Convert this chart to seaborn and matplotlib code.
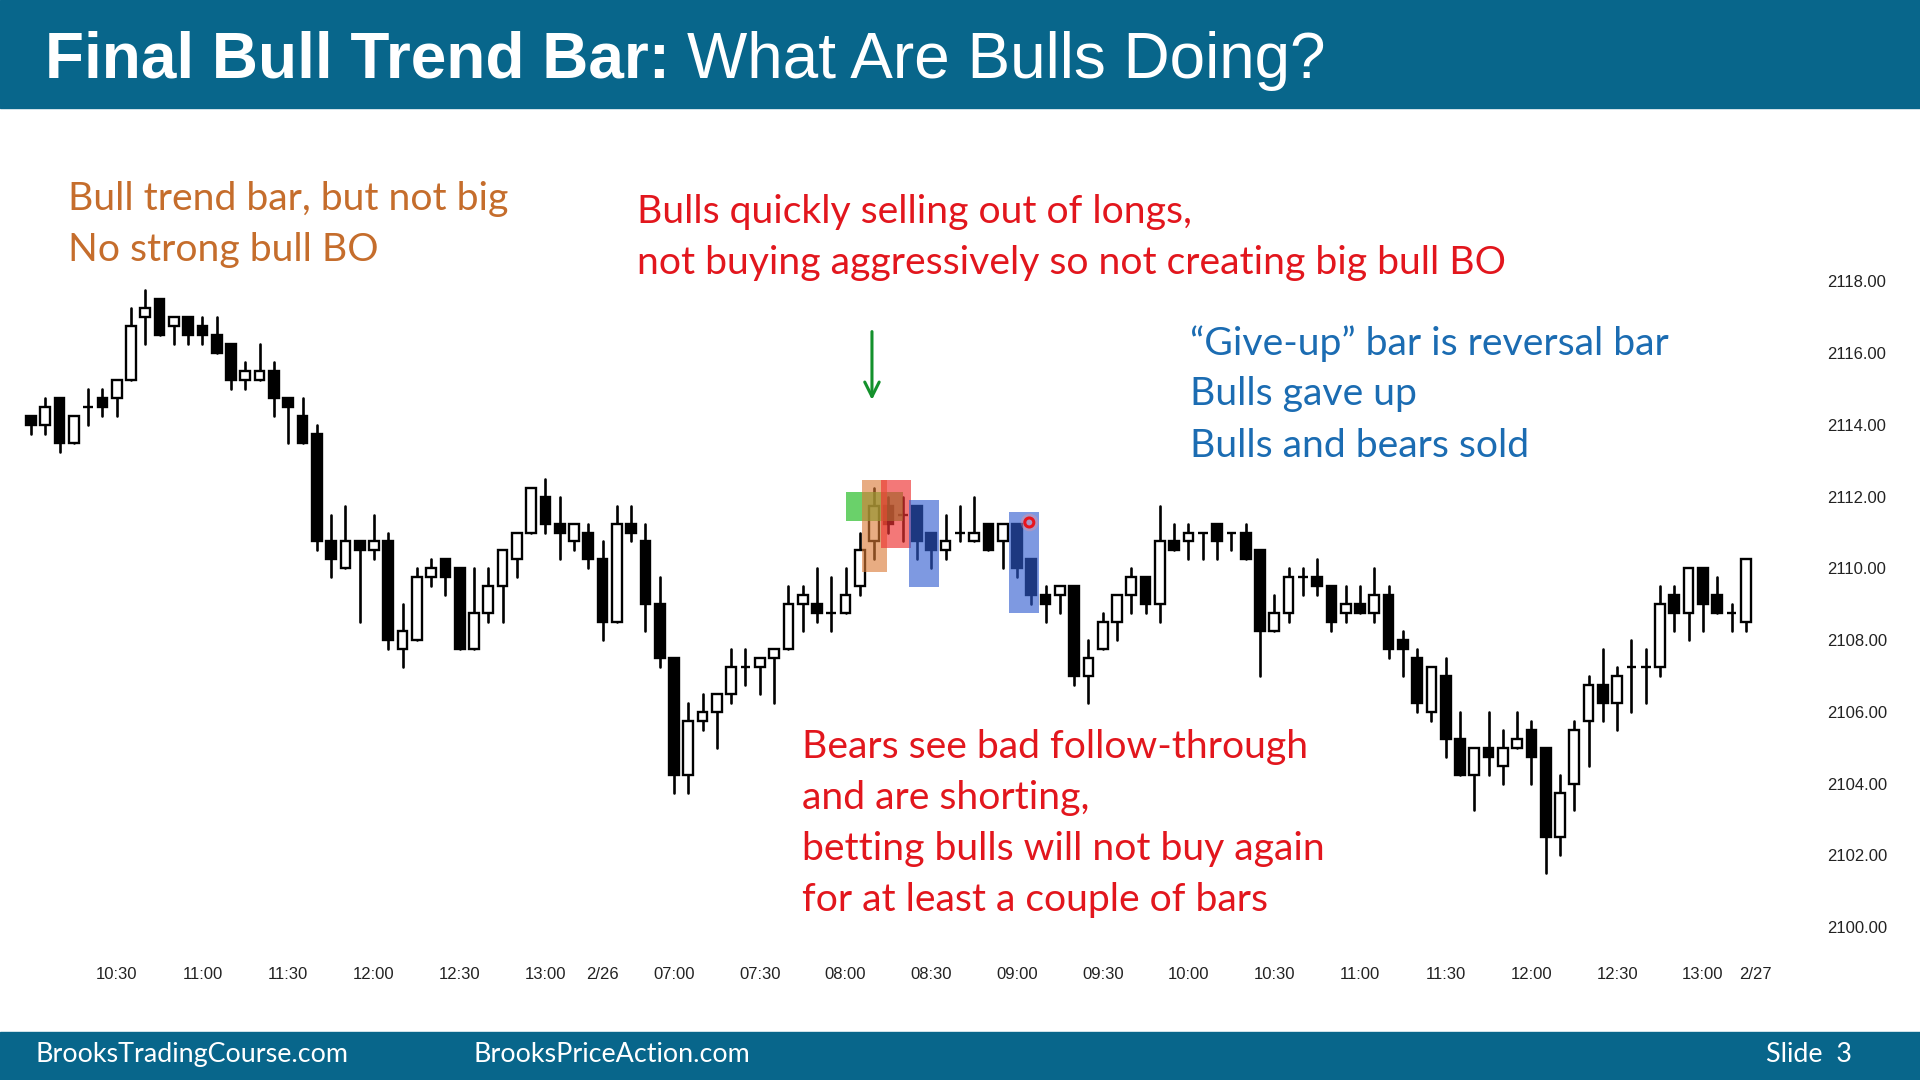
import numpy as np
import pandas as pd
import seaborn as sns
import matplotlib.pyplot as plt
from matplotlib.patches import Rectangle
from matplotlib import font_manager

# 5-min bars, 2/25 10:00 .. 13:15 then 2/26 06:35 .. 13:15
opens = [2114.25, 2114.0, 2114.75, 2113.5, 2114.5, 2114.75, 2114.75, 2115.25, 2117.0, 2117.5,
         2116.75, 2117.0, 2116.75, 2116.5, 2116.25, 2115.25, 2115.25, 2115.5, 2114.75, 2114.25,
         2113.75, 2110.75, 2110.0, 2110.75, 2110.5, 2110.75, 2107.75, 2108.0, 2109.75, 2110.25,
         2110.0, 2107.75, 2108.75, 2109.5, 2110.25, 2111.0, 2112.0, 2111.25, 2110.75, 2111.0,
         2110.25, 2108.5, 2111.25, 2110.75, 2109.0, 2107.5, 2104.25, 2105.75, 2106.0, 2106.5,
         2107.25, 2107.25, 2107.5, 2107.75, 2109.0, 2109.0, 2108.75, 2108.75, 2109.5, 2110.75,
         2111.75, 2111.5, 2111.75, 2111.0, 2110.5, 2111.0, 2110.75, 2111.25, 2110.75, 2111.25,
         2110.25, 2109.25, 2109.25, 2109.5, 2107.0, 2107.75, 2108.5, 2109.25, 2109.75, 2109.0,
         2110.75, 2110.75, 2111.0, 2111.25, 2111.0, 2111.0, 2110.5, 2108.25, 2108.75, 2109.75,
         2109.75, 2109.5, 2108.75, 2109.0, 2108.75, 2109.25, 2108.0, 2107.5, 2106.0, 2107.0,
         2105.25, 2104.25, 2105.0, 2104.5, 2105.0, 2105.5, 2105.0, 2102.5, 2104.0, 2105.75,
         2106.75, 2106.25, 2107.25, 2107.25, 2107.25, 2109.25, 2108.75, 2110.0, 2109.25, 2108.75,
         2108.5]
highs = [2114.25, 2114.75, 2114.75, 2114.25, 2115.0, 2115.0, 2115.25, 2117.25, 2117.75, 2117.5,
         2117.0, 2117.0, 2117.0, 2117.0, 2116.25, 2115.75, 2116.25, 2115.75, 2114.75, 2114.75,
         2114.0, 2111.5, 2111.75, 2110.75, 2111.5, 2111.0, 2109.0, 2110.0, 2110.25, 2110.25,
         2110.0, 2110.0, 2110.0, 2110.5, 2111.0, 2112.25, 2112.5, 2112.0, 2111.25, 2111.25,
         2110.75, 2111.75, 2111.75, 2111.25, 2109.75, 2107.5, 2106.25, 2106.5, 2106.5, 2107.75,
         2107.75, 2107.5, 2107.75, 2109.5, 2109.5, 2110.0, 2109.75, 2110.0, 2111.0, 2112.25,
         2112.0, 2112.0, 2111.75, 2111.0, 2111.5, 2111.75, 2112.0, 2111.25, 2111.25, 2111.25,
         2110.25, 2109.5, 2109.5, 2109.5, 2108.0, 2108.75, 2109.25, 2110.0, 2109.75, 2111.75,
         2111.25, 2111.25, 2111.0, 2111.25, 2111.0, 2111.25, 2110.5, 2109.25, 2110.0, 2110.0,
         2110.25, 2109.5, 2109.5, 2109.5, 2110.0, 2109.5, 2108.25, 2107.75, 2107.25, 2107.5,
         2106.0, 2105.0, 2106.0, 2105.5, 2106.0, 2105.75, 2105.0, 2104.25, 2105.75, 2107.0,
         2107.75, 2107.25, 2108.0, 2107.75, 2109.5, 2109.5, 2110.0, 2110.0, 2109.75, 2109.0,
         2110.25]
lows = [2113.75, 2113.75, 2113.25, 2113.5, 2114.0, 2114.25, 2114.25, 2115.25, 2116.25, 2116.5,
        2116.25, 2116.25, 2116.25, 2116.0, 2115.0, 2115.0, 2115.25, 2114.25, 2113.5, 2113.5,
        2110.5, 2109.75, 2110.0, 2108.5, 2110.25, 2107.75, 2107.25, 2108.0, 2109.5, 2109.25,
        2107.75, 2107.75, 2108.5, 2108.5, 2109.75, 2111.0, 2111.0, 2110.25, 2110.5, 2110.0,
        2108.0, 2108.5, 2110.75, 2108.25, 2107.25, 2103.75, 2103.75, 2105.5, 2105.0, 2106.25,
        2106.75, 2106.5, 2106.25, 2107.75, 2108.25, 2108.5, 2108.25, 2108.75, 2109.25, 2110.25,
        2111.0, 2110.75, 2110.25, 2110.0, 2110.25, 2110.75, 2110.75, 2110.5, 2110.0, 2109.75,
        2109.0, 2108.5, 2108.75, 2106.75, 2106.25, 2107.75, 2108.0, 2108.75, 2108.75, 2108.5,
        2110.5, 2110.25, 2110.25, 2110.25, 2110.5, 2110.25, 2107.0, 2108.25, 2108.5, 2109.25,
        2109.25, 2108.25, 2108.5, 2108.75, 2108.5, 2107.5, 2107.0, 2106.0, 2105.75, 2104.75,
        2104.25, 2103.25, 2104.25, 2104.0, 2105.0, 2104.0, 2101.5, 2102.0, 2103.25, 2104.5,
        2105.75, 2105.5, 2106.0, 2106.25, 2107.0, 2108.25, 2108.0, 2108.25, 2108.75, 2108.25,
        2108.25]
closes = [2114.0, 2114.5, 2113.5, 2114.25, 2114.5, 2114.5, 2115.25, 2116.75, 2117.25, 2116.5,
          2117.0, 2116.5, 2116.5, 2116.0, 2115.25, 2115.5, 2115.5, 2114.75, 2114.5, 2113.5,
          2110.75, 2110.25, 2110.75, 2110.5, 2110.75, 2108.0, 2108.25, 2109.75, 2110.0, 2109.75,
          2107.75, 2108.75, 2109.5, 2110.5, 2111.0, 2112.25, 2111.25, 2111.0, 2111.25, 2110.25,
          2108.5, 2111.25, 2111.0, 2109.0, 2107.5, 2104.25, 2105.75, 2106.0, 2106.5, 2107.25,
          2107.25, 2107.5, 2107.75, 2109.0, 2109.25, 2108.75, 2108.75, 2109.25, 2110.5, 2111.75,
          2111.25, 2111.5, 2110.75, 2110.5, 2110.75, 2111.0, 2111.0, 2110.5, 2111.25, 2110.0,
          2109.25, 2109.0, 2109.5, 2107.0, 2107.5, 2108.5, 2109.25, 2109.75, 2109.0, 2110.75,
          2110.5, 2111.0, 2111.0, 2110.75, 2111.0, 2110.25, 2108.25, 2108.75, 2109.75, 2109.75,
          2109.5, 2108.5, 2109.0, 2108.75, 2109.25, 2107.75, 2107.75, 2106.25, 2107.25, 2105.25,
          2104.25, 2105.0, 2104.75, 2105.0, 2105.25, 2104.75, 2102.5, 2103.75, 2105.5, 2106.75,
          2106.25, 2107.0, 2107.25, 2107.25, 2109.0, 2108.75, 2110.0, 2109.0, 2108.75, 2108.75,
          2110.25]

tick_bars = [6, 12, 18, 24, 30, 36, 40, 45, 51, 57, 63, 69, 75, 81, 87, 93, 99, 105, 111, 117, 120.7]
tick_labels = ['10:30', '11:00', '11:30', '12:00', '12:30', '13:00', '2/26', '07:00', '07:30',
               '08:00', '08:30', '09:00', '09:30', '10:00', '10:30', '11:00', '11:30', '12:00',
               '12:30', '13:00', '2/27']
price_ticks = [2100, 2102, 2104, 2106, 2108, 2110, 2112, 2114, 2116, 2118]

# highlight boxes: (bar from, bar to, price low, price high, colour, alpha)
boxes = [(57.0, 61.0, 2111.33, 2112.12, '#30c030', 0.72),
         (58.13, 59.87, 2109.91, 2112.47, '#da7a35', 0.62),
         (59.45, 61.55, 2110.58, 2112.47, '#ee3333', 0.66),
         (61.43, 63.57, 2109.49, 2111.91, '#2f5bd0', 0.62),
         (68.44, 70.56, 2108.77, 2111.57, '#2f5bd0', 0.62)]

W, H = 1920, 1080
BAND = '#08668b'

sns.set_theme(style='white')
names = {f.name for f in font_manager.fontManager.ttflist}
narrow = 'Liberation Sans Narrow' if 'Liberation Sans Narrow' in names else 'Liberation Sans'
plt.rcParams['font.family'] = ['Lato', 'DejaVu Sans']

fig = plt.figure(figsize=(19.2, 10.8), dpi=100)
fig.patch.set_facecolor('white')

# slide header / footer bands
fig.add_artist(Rectangle((0, 1 - 108 / H), 1, 108 / H, transform=fig.transFigure,
                         color=BAND, zorder=0))
fig.add_artist(Rectangle((0, 0), 1, 48 / H, transform=fig.transFigure, color=BAND, zorder=0))

ax = fig.add_axes([0, 1 - 950 / H, 1810 / W, 680 / H])
ax.set_facecolor('white')

bars = np.arange(len(opens))
o = np.array(opens)
c = np.array(closes)

wicks = pd.DataFrame({'bar': np.repeat(bars, 2),
                      'price': np.column_stack([lows, highs]).ravel()})
sns.lineplot(data=wicks, x='bar', y='price', units='bar', estimator=None, sort=False,
             color='black', lw=1.9, ax=ax, legend=False, zorder=2)

faces = np.where(c > o, 'white', 'black')
ax.bar(bars, np.abs(c - o), bottom=np.minimum(o, c), width=0.68, color=faces,
       edgecolor='black', linewidth=1.7, zorder=3)

for x0, x1, y0, y1, col, a in boxes:
    ax.add_patch(Rectangle((x0, y0), x1 - x0, y1 - y0, color=col, alpha=a, lw=0, zorder=4))

ax.scatter([69.86], [2111.28], s=160, color='#ff9090', alpha=0.35, lw=0, zorder=5)
ax.scatter([69.86], [2111.28], s=42, facecolors='none', edgecolors='#e8141c',
           linewidths=2.2, zorder=6)

ax.annotate('', xy=(58.85, 2114.62), xytext=(58.85, 2116.68),
            arrowprops=dict(arrowstyle='->', color='#14912c', lw=2.2, mutation_scale=26),
            zorder=6)

ax.set_xlim(-31 / 14.29, (1810 - 31) / 14.29)
ax.set_ylim(2099.36, 2118.32)
ax.set_xlabel('')
ax.set_ylabel('')
for s in ax.spines.values():
    s.set_visible(False)
ax.yaxis.tick_right()
ax.set_yticks(price_ticks)
ax.set_yticklabels([f'{p:.2f}' for p in price_ticks], family='Liberation Sans',
                   fontsize=12, color='#222222')
ax.set_xticks(tick_bars)
ax.set_xticklabels(tick_labels, family=narrow, fontsize=12, color='#222222')
ax.tick_params(axis='y', length=0, pad=12)
ax.tick_params(axis='x', length=0, pad=12)
ax.grid(False)

# title
fig.text(45 / W, 1 - 78 / H, 'Final Bull Trend Bar:', color='white', fontsize=46,
         fontweight='bold', family='Liberation Sans', va='baseline')
fig.text(687 / W, 1 - 78 / H, 'What Are Bulls Doing?', color='white', fontsize=46,
         family='Liberation Sans', va='baseline')

# annotations
notes = [
    (68, [210, 261], '#c56d2c', ['Bull trend bar, but not big', 'No strong bull BO']),
    (637, [223, 274], '#e2161d', ['Bulls quickly selling out of longs,',
                                  'not buying aggressively so not creating big bull BO']),
    (1190, [355, 405, 457], '#1b6cb2', ['\u201cGive-up\u201d bar is reversal bar',
                                        'Bulls gave up', 'Bulls and bears sold']),
    (802, [758, 809, 860, 911], '#e2161d', ['Bears see bad follow-through',
                                            'and are shorting,',
                                            'betting bulls will not buy again',
                                            'for at least a couple of bars']),
]
for x, ys, col, lines in notes:
    for y, line in zip(ys, lines):
        fig.text(x / W, 1 - y / H, line, color=col, fontsize=28.2, va='baseline')

# footer
fig.text(35 / W, 1 - 1062 / H, 'BrooksTradingCourse.com', color='white', fontsize=19.4,
         va='baseline')
fig.text(474 / W, 1 - 1062 / H, 'BrooksPriceAction.com', color='white', fontsize=19.4,
         va='baseline')
fig.text(1766 / W, 1 - 1062 / H, 'Slide  3', color='white', fontsize=19.4, va='baseline')

fig.savefig('out.png', dpi=100, facecolor=fig.get_facecolor())
